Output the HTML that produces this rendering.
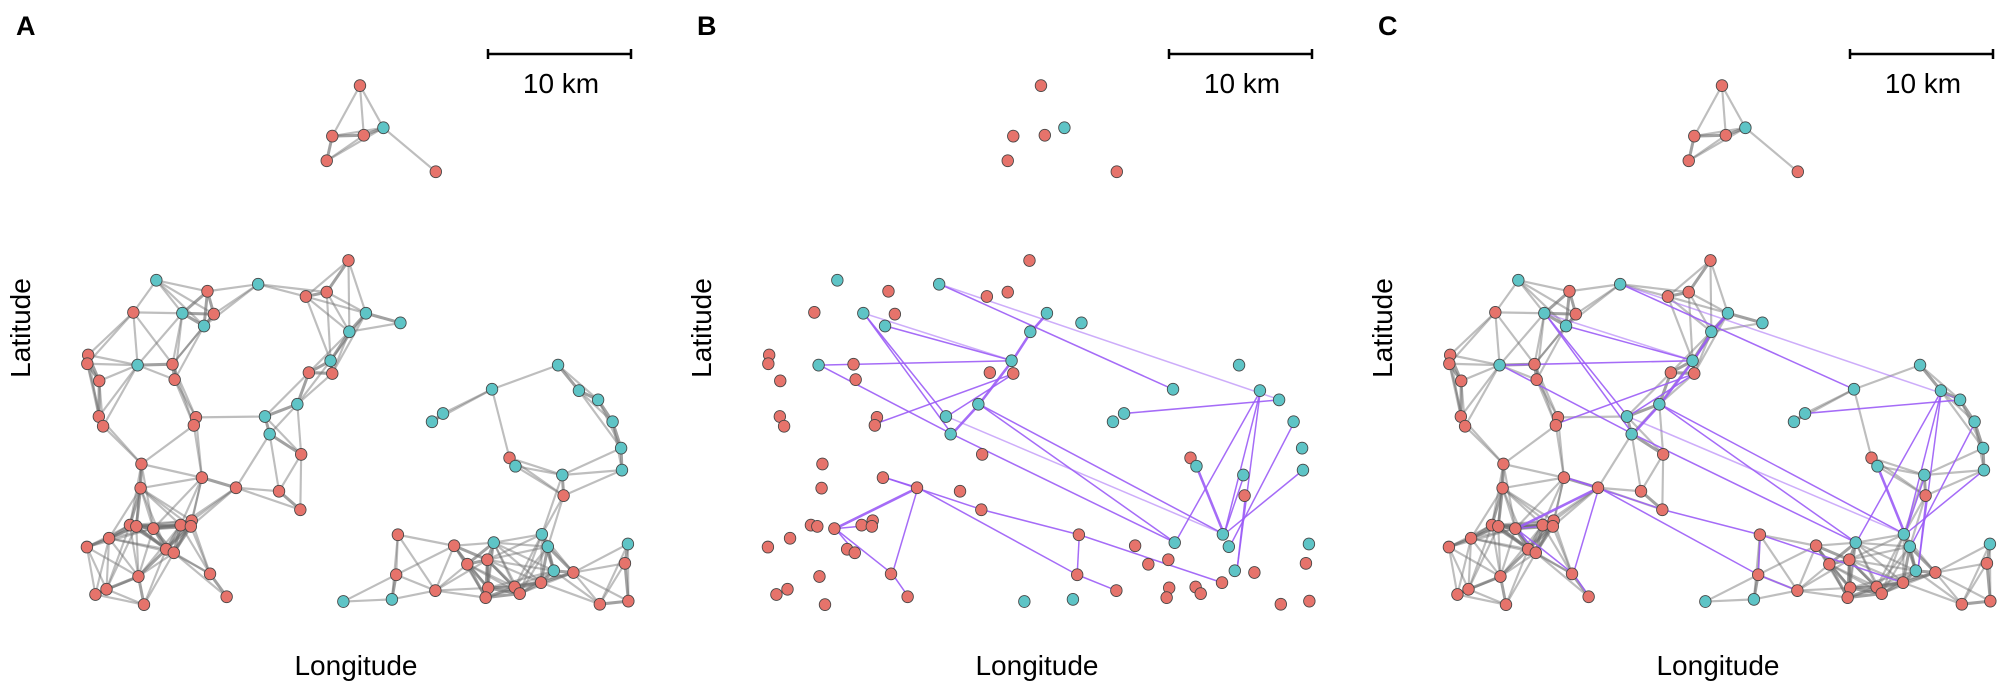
<!DOCTYPE html>
<html><head><meta charset="utf-8"><style>
body{margin:0;background:#fff;width:2008px;height:688px;overflow:hidden;font-family:"Liberation Sans",sans-serif}
svg{position:absolute;left:0;top:0}
</style></head><body>
<svg id="s" width="2008" height="688" xmlns="http://www.w3.org/2000/svg">
<g font-family="Liberation Sans, sans-serif" fill="#000">
<text x="16" y="35" font-size="27" font-weight="bold">A</text>
<text x="697" y="35" font-size="27" font-weight="bold">B</text>
<text x="1378" y="35" font-size="27" font-weight="bold">C</text>
<text x="561" y="93" font-size="28" text-anchor="middle">10 km</text>
<text x="1242" y="93" font-size="28" text-anchor="middle">10 km</text>
<text x="1923" y="93" font-size="28" text-anchor="middle">10 km</text>
<text x="356" y="675" font-size="28" text-anchor="middle">Longitude</text>
<text x="1037" y="675" font-size="28" text-anchor="middle">Longitude</text>
<text x="1718" y="675" font-size="28" text-anchor="middle">Longitude</text>
<text transform="translate(30,328) rotate(-90)" font-size="28" text-anchor="middle">Latitude</text>
<text transform="translate(711,328) rotate(-90)" font-size="28" text-anchor="middle">Latitude</text>
<text transform="translate(1392,328) rotate(-90)" font-size="28" text-anchor="middle">Latitude</text>
</g>
<g stroke="#000" stroke-width="2.5">
<line x1="488" y1="54" x2="631" y2="54"/><line x1="488" y1="49" x2="488" y2="59"/><line x1="631" y1="49" x2="631" y2="59"/>
<line x1="1169" y1="54" x2="1312" y2="54"/><line x1="1169" y1="49" x2="1169" y2="59"/><line x1="1312" y1="49" x2="1312" y2="59"/>
<line x1="1850" y1="54" x2="1993" y2="54"/><line x1="1850" y1="49" x2="1850" y2="59"/><line x1="1993" y1="49" x2="1993" y2="59"/>
</g>
<g id="A" transform="translate(0,-1) scale(0.426,0.4395)"></g>
<g id="B" transform="translate(681,-1) scale(0.426,0.4395)"></g>
<g id="C" transform="translate(1362,-1) scale(0.426,0.4395)"></g>
</svg>
<script>
var N=[[845,197,0],[900,293,1],[780,312,0],[854,310,0],[767,368,0],[1023,393,0],
[367,640,1],[487,665,0],[606,649,1],[818,595,0],[718,677,0],[767,667,0],[313,713,0],[428,715,1],[502,717,0],[479,744,1],[859,715,1],[940,737,1],[820,757,1],[207,810,0],[205,830,0],[323,833,1],[405,831,0],[776,823,1],[725,850,0],[780,852,0],[233,869,0],[410,866,0],[698,922,1],[232,950,0],[460,952,0],[622,950,1],[242,972,0],[455,970,0],[633,990,1],[707,1036,0],[332,1058,0],[474,1089,0],[330,1113,0],[554,1112,0],[655,1120,0],[705,1162,0],[450,1187,0],[305,1197,0],[320,1200,0],[360,1205,0],[424,1197,0],[448,1200,0],[256,1227,0],[204,1247,0],[390,1252,0],[408,1260,0],[493,1308,0],[325,1314,0],[250,1343,0],[224,1355,0],[338,1378,0],[532,1360,0],
[1310,833,1],[1155,888,1],[1040,943,1],[1014,962,1],[1359,891,1],[1404,912,1],[1438,962,1],[1458,1022,1],[1460,1072,1],[1196,1044,0],[1210,1063,1],[1320,1083,1],[1323,1130,0],[1272,1218,1],[934,1219,0],[1066,1244,0],[1159,1237,1],[1286,1246,1],[1474,1240,1],[1097,1286,0],[1144,1276,0],[1467,1284,0],[930,1310,0],[1300,1301,1],[1346,1305,0],[1270,1328,0],[1146,1340,0],[1208,1338,0],[1220,1353,0],[1022,1346,0],[1140,1362,0],[806,1371,1],[920,1366,1],[1408,1377,0],[1475,1370,0]];
var P=[[608,649,1157,889,1],[608,649,1406,912,.5],[429,715,636,990,1],[429,715,624,950,1],[480,744,778,823,1],[429,715,778,823,.5],[325,833,778,823,1],[325,833,636,990,1],[860,715,822,757,2],[822,757,778,823,2],[778,823,700,922,2],[700,922,636,990,2],[461,965,782,852,1],[624,950,782,852,1],[1041,943,1406,912,1],[700,922,1160,1237,1],[700,922,1275,1218,1],[636,990,1160,1237,1],[624,950,1275,1218,.6],[1160,1237,1360,892,1],[1275,1218,1360,892,1],[1305,1301,1360,892,1],[1275,1218,1322,1083,1],[1305,1301,1325,1130,1],[1288,1246,1440,962,1],[1275,1218,1460,1072,1],[1210,1063,1275,1218,1.5],[476,1088,556,1112,1],[476,1088,707,1162,1],[556,1112,362,1205,1.5],[556,1112,496,1308,1],[707,1162,935,1219,1],[935,1219,1270,1328,1],[935,1219,930,1310,1],[930,1310,1022,1346,1],[556,1112,930,1310,1],[362,1205,450,1197,1],[362,1205,496,1308,1],[362,1205,410,1260,1],[496,1308,535,1362,1]];
function cl(n){if(n[1]<420)return 0;if(n[0]>790&&n[1]>800)return 2;return 1;}
function gray(g){var s='';for(var i=0;i<N.length;i++)for(var j=i+1;j<N.length;j++){var a=N[i],b=N[j];if(cl(a)!=cl(b))continue;var d=Math.hypot(a[0]-b[0],a[1]-b[1]);if(d<165){var w=d<90?7:5,o=d<90?.65:.45;s+='<line x1="'+a[0]+'" y1="'+a[1]+'" x2="'+b[0]+'" y2="'+b[1]+'" stroke="rgb(110,110,110)" stroke-opacity="'+o+'" stroke-width="'+w+'"/>';}}return s;}
function purp(){var s='';P.forEach(function(e){s+='<line x1="'+e[0]+'" y1="'+e[1]+'" x2="'+e[2]+'" y2="'+e[3]+'" stroke="#9B5CF6" stroke-opacity="'+(e[4]<1?0.5:0.9)+'" stroke-width="'+(e[4]>1?6:3.5)+'"/>';});return s;}
function nodes(){var s='';N.forEach(function(n){s+='<circle cx="'+n[0]+'" cy="'+n[1]+'" r="13.5" fill="'+(n[2]?'#5EC4C6':'#E6736B')+'" stroke="#444" stroke-width="2"/>';});return s;}
document.getElementById('A').innerHTML=gray()+nodes();
document.getElementById('B').innerHTML=purp()+nodes();
document.getElementById('C').innerHTML=gray()+purp()+nodes();
</script>
</body></html>
